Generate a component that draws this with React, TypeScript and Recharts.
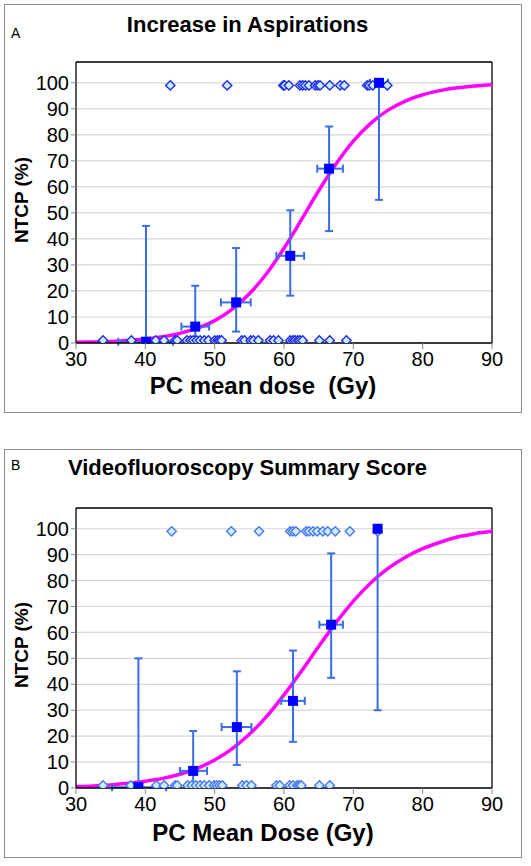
import React from "react";
import {
  ComposedChart,
  Scatter,
  Line,
  XAxis,
  YAxis,
  CartesianGrid,
  ErrorBar,
  ReferenceLine,
} from "recharts";

const xTicks = [30, 40, 50, 60, 70, 80, 90];
const yTicks = [0, 10, 20, 30, 40, 50, 60, 70, 80, 90, 100];

// dose grid for the fitted curves
const curveDose = [
  30, 32.5, 35, 37.5, 40, 42.5, 45, 47.5, 50, 52.5, 55, 57.5, 60, 62.5, 65,
  67.5, 70, 72.5, 75, 77.5, 80, 82.5, 85, 87.5, 90,
];

// Panel A: increase in aspirations
const aspEventDose = [
  43.6, 51.8, 59.9, 60.1, 60.7, 62.3, 62.7, 63.1, 63.6, 64.5, 64.9, 65.2, 66.6,
  68.1, 68.7, 72.0, 72.3, 72.8, 74.9,
];
const aspNoEventDose = [
  33.9, 38.0, 41.5, 42.7, 44.3, 44.6, 46.0, 46.5, 46.9, 47.4, 47.9, 48.5, 49.1,
  50.0, 50.4, 50.7, 51.0, 53.9, 54.3, 55.2, 55.6, 56.3, 58.0, 58.5, 59.2, 60.9,
  61.3, 61.6, 62.0, 62.3, 62.7, 65.1, 66.6, 69.0,
];
const aspGroupDose = [40.1, 47.2, 53.1, 60.9, 66.5, 73.7];
const aspGroupNtcp = [0.5, 6.3, 15.6, 33.5, 67, 100];
const aspNtcpLow = [0, 0.5, 4.4, 18.2, 43, 55];
const aspNtcpHigh = [45, 22, 36.5, 51, 83.2, 100];
const aspDoseLow = [36.1, 45.2, 50.9, 58.9, 64.8, 72.4];
const aspDoseHigh = [44.0, 49.2, 55.2, 62.9, 68.5, 75.0];
const aspCurve = [
  0.3, 0.4, 0.6, 1.0, 1.5, 2.4, 3.7, 5.7, 8.6, 12.9, 18.9, 26.7, 36.4, 47.3,
  58.5, 68.8, 77.6, 84.4, 89.5, 93.0, 95.4, 97.0, 98.1, 98.8, 99.3,
];

// Panel B: videofluoroscopy summary score
const vfEventDose = [
  43.8, 52.4, 56.4, 60.9, 61.3, 61.7, 63.2, 63.6, 64.2, 64.8, 65.6, 66.3, 67.4,
  69.5, 73.5,
];
const vfNoEventDose = [
  33.9, 37.9, 41.6, 42.7, 44.3, 44.6, 46.1, 46.7, 47.3, 47.9, 48.5, 49.2, 49.9,
  50.3, 50.7, 51.1, 54.0, 54.6, 55.3, 58.9, 59.4, 60.8, 61.3, 61.9, 62.2, 62.5,
  65.1, 66.6,
];
const vfGroupDose = [39.0, 46.9, 53.2, 61.3, 66.8, 73.5];
const vfGroupNtcp = [0.3, 6.6, 23.5, 33.6, 63, 100];
const vfNtcpLow = [0, 0.5, 8.9, 17.8, 42.5, 30];
const vfNtcpHigh = [50, 22, 45, 53, 90.5, 100];
const vfDoseLow = [35.2, 45.0, 51.0, 59.6, 65.1, 73.5];
const vfDoseHigh = [43.0, 48.9, 55.3, 63.0, 68.5, 73.5];
const vfCurve = [
  0.6, 0.8, 1.2, 1.8, 2.6, 3.7, 5.3, 7.6, 10.8, 15.1, 20.7, 27.6, 35.9, 45.0,
  54.6, 63.8, 72.1, 79.1, 84.7, 89.0, 92.3, 94.8, 96.8, 98.1, 99.0,
];

const FONT = "'Liberation Sans', Arial, sans-serif";
const ERR_COLOR = "#3a6ee8";

const makeDiamond = (stroke: string, fill: string) => (props: any) => {
  const { cx, cy } = props;
  const r = 4.7;
  return (
    <path
      d={`M${cx},${cy - r}L${cx + r},${cy}L${cx},${cy + r}L${cx - r},${cy}Z`}
      fill={fill}
      stroke={stroke}
      strokeWidth={1.4}
    />
  );
};

const squareShape = (props: any) => {
  const { cx, cy } = props;
  return <rect x={cx - 5} y={cy - 5} width={10} height={10} fill="#0000ff" />;
};

interface PanelProps {
  top: number;
  letter: string;
  letterY: number;
  title: string;
  titleY: number;
  xLabel: string;
  xLabelY: number;
  plotTop: number;
  eventDose: number[];
  noEventDose: number[];
  groupDose: number[];
  groupNtcp: number[];
  ntcpLow: number[];
  ntcpHigh: number[];
  doseLow: number[];
  doseHigh: number[];
  curve: number[];
  diamondStroke: string;
}

function Panel(p: PanelProps) {
  const points = [
    ...p.eventDose.map((x) => ({ x, y: 99 })),
    ...p.noEventDose.map((x) => ({ x, y: 1 })),
  ];
  const groups = p.groupDose.map((x, i) => ({
    x,
    y: p.groupNtcp[i],
    ex: [x - p.doseLow[i], p.doseHigh[i] - x],
    ey: [p.groupNtcp[i] - p.ntcpLow[i], p.ntcpHigh[i] - p.groupNtcp[i]],
  }));
  const curve = curveDose.map((x, i) => ({ x, y: p.curve[i] }));
  const diamond = makeDiamond(p.diamondStroke, "#cdeeff");

  return (
    <div
      style={{
        position: "absolute",
        left: 4,
        top: p.top,
        width: 518,
        height: 409,
        fontFamily: FONT,
      }}
    >
      <div
        style={{
          position: "absolute",
          inset: 0,
          border: "1px solid #8c8c8c",
          boxSizing: "border-box",
        }}
      />
      <div
        style={{ position: "absolute", left: 7, top: p.letterY - 9, fontSize: 14, lineHeight: "18px" }}
      >
        {p.letter}
      </div>
      <div
        style={{
          position: "absolute",
          left: 0,
          width: 487,
          top: p.titleY - 13,
          textAlign: "center",
          fontSize: 22,
          fontWeight: "bold",
          lineHeight: "26px",
        }}
      >
        {p.title}
      </div>
      <ComposedChart
        width={518}
        height={409}
        margin={{ top: p.plotTop, right: 30, bottom: 40, left: 0 }}
        style={{ position: "absolute", left: 0, top: 0 }}
      >
        <CartesianGrid vertical={false} stroke="#d6d6d6" strokeWidth={1.2} />
        <XAxis
          type="number"
          dataKey="x"
          domain={[30, 90]}
          ticks={xTicks}
          interval={0}
          height={30}
          axisLine={{ stroke: "#000", strokeWidth: 1.3 }}
          tickLine={{ stroke: "#888" }}
          tickSize={6}
          tickMargin={3}
          tick={{ fill: "#000", fontSize: 20, fontFamily: FONT }}
          allowDataOverflow
        />
        <YAxis
          type="number"
          dataKey="y"
          domain={[0, 108]}
          ticks={yTicks}
          interval={0}
          width={72}
          axisLine={{ stroke: "#000", strokeWidth: 1.3 }}
          tickLine={{ stroke: "#888" }}
          tickSize={5}
          tickMargin={2}
          tick={{ fill: "#000", fontSize: 20, fontFamily: FONT }}
          allowDataOverflow
        />
        <ReferenceLine y={108} stroke="#000" strokeWidth={1.3} />
        <ReferenceLine x={90} stroke="#000" strokeWidth={1.3} />
        <Line
          data={curve}
          dataKey="y"
          type="monotone"
          stroke="#ff00ff"
          strokeWidth={3.5}
          dot={false}
          activeDot={false}
          isAnimationActive={false}
        />
        <Scatter data={points} shape={diamond} isAnimationActive={false} />
        <Scatter data={groups} shape={squareShape} isAnimationActive={false}>
          <ErrorBar dataKey="ey" direction="y" width={4} stroke={ERR_COLOR} strokeWidth={2} isAnimationActive={false} />
          <ErrorBar dataKey="ex" direction="x" width={4} stroke={ERR_COLOR} strokeWidth={2} isAnimationActive={false} />
        </Scatter>
      </ComposedChart>
      <div
        style={{
          position: "absolute",
          left: 18 - 60,
          top: 196 - 12,
          width: 120,
          textAlign: "center",
          fontSize: 19,
          fontWeight: "bold",
          lineHeight: "24px",
          transform: "rotate(-90deg)",
        }}
      >
        NTCP (%)
      </div>
      <div
        style={{
          position: "absolute",
          left: 259 - 150,
          width: 300,
          top: p.xLabelY - 14,
          textAlign: "center",
          fontSize: 24,
          fontWeight: "bold",
          lineHeight: "28px",
          whiteSpace: "pre",
        }}
      >
        {p.xLabel}
      </div>
    </div>
  );
}

export default function App() {
  return (
    <div style={{ position: "absolute", left: 0, top: 0, width: 531, height: 866, background: "#fff" }}>
      <Panel
        top={4}
        letter="A"
        letterY={29}
        title="Increase in Aspirations"
        titleY={21}
        xLabel="PC mean dose  (Gy)"
        xLabelY={382}
        plotTop={58}
        eventDose={aspEventDose}
        noEventDose={aspNoEventDose}
        groupDose={aspGroupDose}
        groupNtcp={aspGroupNtcp}
        ntcpLow={aspNtcpLow}
        ntcpHigh={aspNtcpHigh}
        doseLow={aspDoseLow}
        doseHigh={aspDoseHigh}
        curve={aspCurve}
        diamondStroke="#1f2cf0"
      />
      <Panel
        top={449}
        letter="B"
        letterY={16}
        title="Videofluoroscopy Summary Score"
        titleY={19}
        xLabel="PC Mean Dose (Gy)"
        xLabelY={384}
        plotTop={59}
        eventDose={vfEventDose}
        noEventDose={vfNoEventDose}
        groupDose={vfGroupDose}
        groupNtcp={vfGroupNtcp}
        ntcpLow={vfNtcpLow}
        ntcpHigh={vfNtcpHigh}
        doseLow={vfDoseLow}
        doseHigh={vfDoseHigh}
        curve={vfCurve}
        diamondStroke="#4a78ee"
      />
    </div>
  );
}
